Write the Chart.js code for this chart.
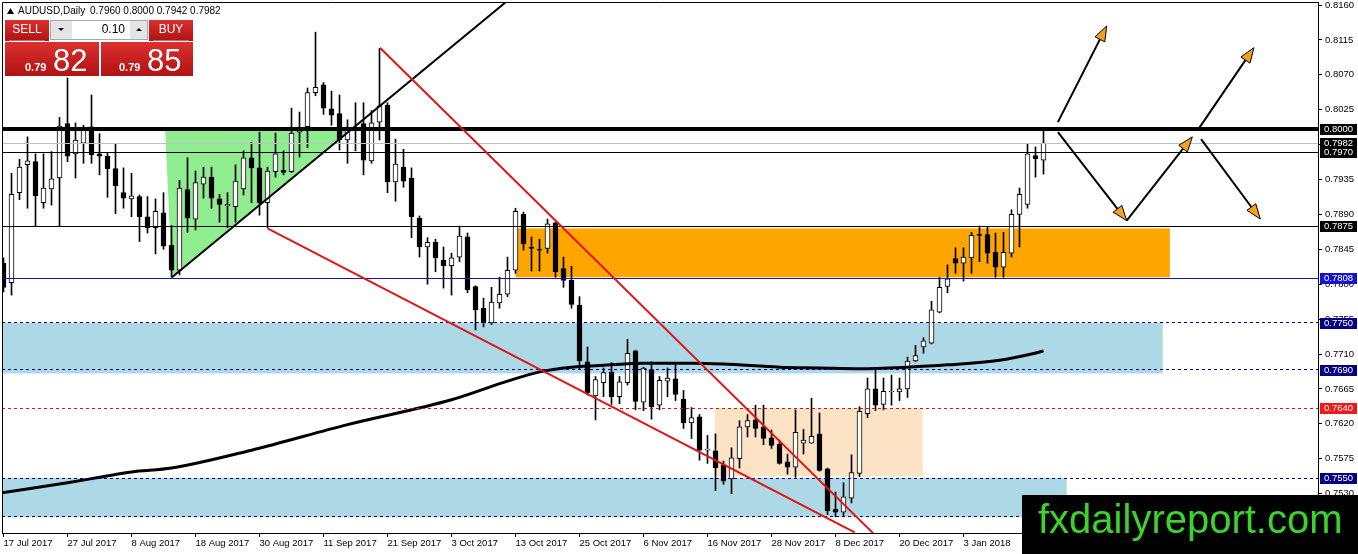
<!DOCTYPE html>
<html>
<head>
<meta charset="utf-8">
<script src="https://cdn.jsdelivr.net/npm/chart.js@4.4.1/dist/chart.umd.min.js"></script>
<style>
  html, body { margin: 0; padding: 0; background: #fff; overflow: hidden; }
  canvas { display: block; }
</style>
</head>
<body>
<canvas id="chart" width="1358" height="554"></canvas>
<script>
// AUDUSD daily candles, 17 Jul 2017 .. Jan 2018
const opens = [
  0.7827, 0.7802, 0.7918, 0.7954, 0.7958, 0.7905, 0.7923, 0.7937, 0.8007, 0.7968,
  0.7982, 0.8003, 0.7968, 0.7965, 0.7949, 0.7918, 0.7910, 0.7913, 0.7887, 0.7873,
  0.7892, 0.7850, 0.7818, 0.7922, 0.7884, 0.7929, 0.7938, 0.7910, 0.7901, 0.7900,
  0.7923, 0.7963, 0.7950, 0.7905, 0.7945, 0.7947, 0.7945, 0.7996, 0.8003, 0.8047,
  0.8057, 0.8026, 0.8020, 0.7986, 0.7998, 0.8007, 0.7959, 0.8009, 0.8031, 0.7932,
  0.7951, 0.7937, 0.7885, 0.7848, 0.7854, 0.7831, 0.7824, 0.7835, 0.7861, 0.7797,
  0.7769, 0.7750, 0.7776, 0.7787, 0.7818, 0.7890, 0.7848, 0.7845, 0.7846, 0.7879,
  0.7820, 0.7805, 0.7773, 0.7700, 0.7656, 0.7673, 0.7687, 0.7655, 0.7673, 0.7714,
  0.7648, 0.7690, 0.7644, 0.7675, 0.7678, 0.7652, 0.7621, 0.7629, 0.7586, 0.7585,
  0.7567, 0.7549, 0.7575, 0.7616, 0.7625, 0.7616, 0.7602, 0.7594, 0.7571, 0.7564,
  0.7595, 0.7595, 0.7607, 0.7562, 0.7510, 0.7506, 0.7524, 0.7556, 0.7633, 0.7665,
  0.7645, 0.7661, 0.7661, 0.7665, 0.7701, 0.7719, 0.7724, 0.7764, 0.7797, 0.7833,
  0.7827, 0.7834, 0.7864, 0.7864, 0.7841, 0.7822, 0.7840, 0.7890, 0.7903, 0.7966,
  0.7960
];
const highs = [
  0.7834, 0.7943, 0.7961, 0.7990, 0.7968, 0.7968, 0.7971, 0.8015, 0.8066, 0.8008,
  0.8005, 0.8044, 0.7994, 0.7969, 0.7981, 0.7950, 0.7943, 0.7915, 0.7913, 0.7910,
  0.7918, 0.7876, 0.7934, 0.7963, 0.7946, 0.7951, 0.7951, 0.7916, 0.7918, 0.7954,
  0.7972, 0.7983, 0.7996, 0.7951, 0.7995, 0.7972, 0.8027, 0.8022, 0.8053, 0.8125,
  0.8060, 0.8049, 0.8044, 0.8012, 0.8034, 0.8034, 0.8024, 0.8104, 0.8034, 0.7987,
  0.7974, 0.7950, 0.7888, 0.7860, 0.7858, 0.7848, 0.7840, 0.7875, 0.7866, 0.7798,
  0.7782, 0.7796, 0.7809, 0.7835, 0.7898, 0.7893, 0.7861, 0.7858, 0.7884, 0.7880,
  0.7835, 0.7823, 0.7784, 0.7719, 0.7681, 0.7692, 0.7699, 0.7681, 0.7729, 0.7715,
  0.7693, 0.7700, 0.7681, 0.7692, 0.7696, 0.7663, 0.7641, 0.7632, 0.7605, 0.7607,
  0.7572, 0.7589, 0.7624, 0.7632, 0.7644, 0.7644, 0.7612, 0.7599, 0.7581, 0.7638,
  0.7613, 0.7653, 0.7634, 0.7563, 0.7532, 0.7544, 0.7580, 0.7642, 0.7679, 0.7689,
  0.7679, 0.7683, 0.7679, 0.7706, 0.7721, 0.7731, 0.7778, 0.7809, 0.7825, 0.7847,
  0.7847, 0.7867, 0.7875, 0.7874, 0.7866, 0.7867, 0.7896, 0.7924, 0.7981, 0.7977,
  0.8000
];
const lows = [
  0.7790, 0.7786, 0.7909, 0.7898, 0.7875, 0.7898, 0.7902, 0.7875, 0.7958, 0.7937,
  0.7956, 0.7956, 0.7941, 0.7912, 0.7891, 0.7898, 0.7887, 0.7855, 0.7866, 0.7839,
  0.7845, 0.7809, 0.7812, 0.7867, 0.7870, 0.7911, 0.7898, 0.7880, 0.7873, 0.7880,
  0.7915, 0.7905, 0.7889, 0.7873, 0.7938, 0.7941, 0.7944, 0.7964, 0.7976, 0.8043,
  0.8019, 0.8005, 0.7973, 0.7956, 0.7972, 0.7941, 0.7956, 0.7986, 0.7918, 0.7907,
  0.7925, 0.7860, 0.7835, 0.7800, 0.7816, 0.7795, 0.7786, 0.7829, 0.7789, 0.7741,
  0.7745, 0.7748, 0.7769, 0.7784, 0.7814, 0.7844, 0.7817, 0.7817, 0.7840, 0.7809,
  0.7796, 0.7769, 0.7690, 0.7657, 0.7625, 0.7655, 0.7645, 0.7646, 0.7670, 0.7638,
  0.7637, 0.7626, 0.7638, 0.7655, 0.7650, 0.7614, 0.7601, 0.7573, 0.7569, 0.7534,
  0.7542, 0.7530, 0.7563, 0.7603, 0.7603, 0.7593, 0.7588, 0.7568, 0.7555, 0.7551,
  0.7581, 0.7595, 0.7559, 0.7503, 0.7500, 0.7500, 0.7518, 0.7552, 0.7628, 0.7637,
  0.7638, 0.7644, 0.7650, 0.7654, 0.7700, 0.7711, 0.7723, 0.7763, 0.7789, 0.7814,
  0.7804, 0.7814, 0.7829, 0.7827, 0.7809, 0.7809, 0.7835, 0.7848, 0.7898, 0.7938,
  0.7942
];
const closes = [
  0.7796, 0.7916, 0.7951, 0.7959, 0.7914, 0.7924, 0.7936, 0.8004, 0.7965, 0.7986,
  0.8000, 0.7967, 0.7965, 0.7949, 0.7927, 0.7911, 0.7914, 0.7887, 0.7873, 0.7894,
  0.7849, 0.7818, 0.7924, 0.7885, 0.7931, 0.7938, 0.7911, 0.7903, 0.7903, 0.7933,
  0.7963, 0.7950, 0.7905, 0.7946, 0.7968, 0.7944, 0.7995, 0.8001, 0.8047, 0.8054,
  0.8027, 0.8018, 0.7986, 0.7999, 0.8001, 0.7960, 0.8008, 0.8030, 0.7932, 0.7955,
  0.7933, 0.7887, 0.7848, 0.7854, 0.7834, 0.7824, 0.7834, 0.7862, 0.7793, 0.7767,
  0.7750, 0.7777, 0.7787, 0.7818, 0.7894, 0.7852, 0.7846, 0.7844, 0.7878, 0.7816,
  0.7805, 0.7774, 0.7701, 0.7660, 0.7677, 0.7686, 0.7655, 0.7674, 0.7711, 0.7649,
  0.7692, 0.7642, 0.7676, 0.7679, 0.7658, 0.7621, 0.7628, 0.7586, 0.7587, 0.7563,
  0.7546, 0.7576, 0.7616, 0.7624, 0.7614, 0.7601, 0.7592, 0.7569, 0.7564, 0.7609,
  0.7599, 0.7604, 0.7560, 0.7508, 0.7506, 0.7526, 0.7557, 0.7636, 0.7665, 0.7644,
  0.7662, 0.7662, 0.7665, 0.7701, 0.7708, 0.7727, 0.7767, 0.7796, 0.7807, 0.7827,
  0.7835, 0.7863, 0.7863, 0.7840, 0.7822, 0.7841, 0.7890, 0.7916, 0.7968, 0.7962,
  0.7982
];

// time axis labels (bar index -> date)
const tickBars = [0, 8, 16, 24, 32, 40, 48, 56, 64, 72, 80, 88, 96, 104, 112, 120];
const tickLabels = ['17 Jul 2017', '27 Jul 2017', '8 Aug 2017', '18 Aug 2017', '30 Aug 2017',
  '11 Sep 2017', '21 Sep 2017', '3 Oct 2017', '13 Oct 2017', '25 Oct 2017', '6 Nov 2017',
  '16 Nov 2017', '28 Nov 2017', '8 Dec 2017', '20 Dec 2017', '3 Jan 2018'];
const priceTicks = [0.8160, 0.8115, 0.8070, 0.8025, 0.7980, 0.7935, 0.7890, 0.7845, 0.7800,
  0.7755, 0.7710, 0.7665, 0.7620, 0.7575, 0.7530];

// moving average, read at a few bars
const maBars = [-0.2, 8, 12, 16, 21, 31, 43, 56, 63, 67, 71, 76, 80, 86, 90, 97, 102, 107, 113, 118, 124.5, 128.5, 130];
const maValues = [0.7531, 0.7544, 0.7551, 0.7558, 0.7563, 0.7586, 0.7619, 0.7651, 0.7675, 0.7687,
  0.7693, 0.7696, 0.7698, 0.7698, 0.7697, 0.7693, 0.7692, 0.7691, 0.7693, 0.7696, 0.7702, 0.7710, 0.7714];

// horizontal levels
const levelPrices = [0.8000, 0.7982, 0.7970, 0.7875, 0.7808, 0.7750, 0.7690, 0.7640, 0.7550, 0.7500];
const labelledLevels = [0.8000, 0.7982, 0.7970, 0.7875, 0.7808, 0.7750, 0.7690, 0.7640, 0.7550];

// zones: [fromBar, toBar, topPrice, bottomPrice]
const zones = [
  [-2, 144.9, 0.7750, 0.7685],
  [-2, 132.9, 0.7550, 0.7500],
  [64, 145.8, 0.7872, 0.7809],
  [88.9, 114.9, 0.7640, 0.7552]
];
const greenTriangle = [[20.2, 0.8000], [21.06, 0.7809], [43.3, 0.8000]];

// trend lines: [bar1, price1, bar2, price2]
const blackTrend = [21.06, 0.7809, 62.7, 0.8163];
const redTrends = [
  [47.06, 0.8105, 108.7, 0.7479],
  [33, 0.7872, 106.4, 0.7480]
];
const arrows = [
  [131.8, 0.8009, 137.9, 0.8133],
  [131.8, 0.7996, 140.4, 0.7882],
  [140.4, 0.7882, 148.6, 0.7990],
  [149.3, 0.7999, 156.3, 0.8105],
  [149.7, 0.7987, 157.1, 0.7884]
];

const bidPrice = 0.7982;
const askPrice = 0.7985;
const lotSize = '0.10';

const bars = opens.map((_, i) => i);
const axisFont = { family: 'Liberation Sans', size: 9.5 };

const zoneColors = ['#add8e6', '#add8e6', '#ffa500', '#fde3c6'];
const levelStyles = [
  { color: '#000', width: 4, dash: [] },
  { color: '#c0c0c0', width: 1, dash: [] },
  { color: '#000', width: 1, dash: [] },
  { color: '#000', width: 1, dash: [] },
  { color: '#1414b4', width: 1, dash: [] },
  { color: '#000080', width: 1, dash: [3, 3] },
  { color: '#000080', width: 1, dash: [3, 3] },
  { color: '#e01010', width: 1, dash: [3, 3] },
  { color: '#000080', width: 1, dash: [3, 3] },
  { color: '#000080', width: 1, dash: [3, 3] }
];
const labelColors = ['#000', '#000', '#000', '#000', '#1414d0', '#000080', '#000080', '#f01818', '#000080'];

function drawArrow(ctx, x1, y1, x2, y2) {
  const a = Math.atan2(y2 - y1, x2 - x1);
  const len = 15, half = 5.5;
  const bx = x2 - len * Math.cos(a), by = y2 - len * Math.sin(a);
  ctx.beginPath();
  ctx.moveTo(x1, y1);
  ctx.lineTo(bx, by);
  ctx.lineWidth = 2;
  ctx.strokeStyle = '#000';
  ctx.stroke();
  ctx.beginPath();
  ctx.moveTo(x2, y2);
  ctx.lineTo(bx + half * Math.sin(a), by - half * Math.cos(a));
  ctx.lineTo(bx - half * Math.sin(a), by + half * Math.cos(a));
  ctx.closePath();
  ctx.fillStyle = '#f3a01e';
  ctx.fill();
  ctx.lineWidth = 1;
  ctx.stroke();
}

function redBox(ctx, x, y, w, h) {
  const g = ctx.createLinearGradient(0, y, 0, y + h);
  g.addColorStop(0, '#dc3030');
  g.addColorStop(1, '#b01212');
  ctx.fillStyle = g;
  ctx.fillRect(x, y, w, h);
}

function drawTradePanel(ctx) {
  const n = opens.length - 1;
  ctx.fillStyle = '#000';
  ctx.beginPath();
  ctx.moveTo(7, 14); ctx.lineTo(14, 14); ctx.lineTo(10.5, 8);
  ctx.closePath(); ctx.fill();
  ctx.font = '10px "Liberation Sans"';
  ctx.textAlign = 'left';
  ctx.textBaseline = 'middle';
  ctx.fillText('AUDUSD,Daily', 18, 11);
  ctx.fillText([opens[n], highs[n], lows[n], closes[n]].map(v => v.toFixed(4)).join(' '), 90, 11);

  // sell / lot / buy row
  redBox(ctx, 5, 20, 44, 21);
  redBox(ctx, 149, 20, 44, 21);
  ctx.fillStyle = '#e4e4e4';
  ctx.fillRect(50, 20, 22, 20);
  ctx.fillRect(130, 20, 18, 20);
  ctx.fillStyle = '#fff';
  ctx.fillRect(72, 20, 58, 20);
  ctx.strokeStyle = '#a8a8a8';
  ctx.lineWidth = 1;
  ctx.strokeRect(50.5, 20.5, 97, 19);
  ctx.fillStyle = '#000';
  ctx.beginPath(); ctx.moveTo(58, 28); ctx.lineTo(64, 28); ctx.lineTo(61, 31); ctx.closePath(); ctx.fill();
  ctx.beginPath(); ctx.moveTo(136, 31); ctx.lineTo(142, 31); ctx.lineTo(139, 28); ctx.closePath(); ctx.fill();
  ctx.font = '12px "Liberation Sans"';
  ctx.textAlign = 'right';
  ctx.fillText(lotSize, 125, 30);
  ctx.fillStyle = '#fff';
  ctx.textAlign = 'center';
  ctx.fillText('SELL', 27, 30);
  ctx.fillText('BUY', 171, 30);
  ctx.fillStyle = 'rgba(255,255,255,0.35)';
  ctx.fillRect(9, 40, 36, 1);
  ctx.fillRect(153, 40, 36, 1);

  // big price panels
  redBox(ctx, 5, 42, 94, 34);
  redBox(ctx, 101, 42, 92, 34);
  const parts = [[bidPrice, 25, 53], [askPrice, 119, 147]];
  parts.forEach(([p, xs, xb]) => {
    const s = p.toFixed(4);
    ctx.fillStyle = '#fff';
    ctx.textAlign = 'left';
    ctx.textBaseline = 'alphabetic';
    ctx.font = 'bold 11px "Liberation Sans"';
    ctx.fillText(s.slice(0, 4), xs, 71);
    ctx.font = '31px "Liberation Sans"';
    ctx.fillText(s.slice(4), xb, 71);
  });
}

const annotations = {
  id: 'annotations',
  beforeDatasetsDraw(chart) {
    const { ctx, chartArea: a, scales: { x, y } } = chart;
    ctx.save();
    ctx.beginPath(); ctx.rect(a.left, a.top, a.width, a.height); ctx.clip();
    zones.forEach((z, k) => {
      const x0 = x.getPixelForValue(z[0]), x1 = x.getPixelForValue(z[1]);
      const y0 = y.getPixelForValue(z[2]), y1 = y.getPixelForValue(z[3]);
      ctx.fillStyle = zoneColors[k];
      ctx.fillRect(x0, y0, x1 - x0, y1 - y0);
    });
    ctx.beginPath();
    greenTriangle.forEach(([b, p], i) => {
      const px = x.getPixelForValue(b), py = y.getPixelForValue(p);
      if (i) ctx.lineTo(px, py); else ctx.moveTo(px, py);
    });
    ctx.closePath();
    ctx.fillStyle = '#90ee90';
    ctx.fill();
    ctx.restore();
  },
  afterDatasetsDraw(chart) {
    const { ctx, chartArea: a, scales: { x, y } } = chart;
    ctx.save();
    ctx.beginPath(); ctx.rect(a.left, a.top, a.width, a.height); ctx.clip();
    levelPrices.forEach((p, k) => {
      const st = levelStyles[k];
      let py = y.getPixelForValue(p);
      if (st.width % 2) py = Math.round(py - 0.5) + 0.5;
      ctx.beginPath();
      ctx.setLineDash(st.dash);
      ctx.strokeStyle = st.color;
      ctx.lineWidth = st.width;
      ctx.moveTo(a.left, py);
      ctx.lineTo(a.right, py);
      ctx.stroke();
    });
    ctx.setLineDash([]);
    const seg = (t, color) => {
      ctx.beginPath();
      ctx.moveTo(x.getPixelForValue(t[0]), y.getPixelForValue(t[1]));
      ctx.lineTo(x.getPixelForValue(t[2]), y.getPixelForValue(t[3]));
      ctx.strokeStyle = color;
      ctx.lineWidth = 2;
      ctx.stroke();
    };
    seg(blackTrend, '#000');
    redTrends.forEach(t => seg(t, '#e01515'));
    arrows.forEach(t => drawArrow(ctx, x.getPixelForValue(t[0]), y.getPixelForValue(t[1]),
      x.getPixelForValue(t[2]), y.getPixelForValue(t[3])));
    ctx.restore();
  },
  afterDraw(chart) {
    const { ctx, chartArea: a, scales: { y } } = chart;
    ctx.save();
    // frame
    ctx.strokeStyle = '#000';
    ctx.lineWidth = 1;
    ctx.beginPath();
    ctx.moveTo(a.left + 0.5, a.bottom); ctx.lineTo(a.left + 0.5, a.top + 0.5); ctx.lineTo(a.right, a.top + 0.5);
    ctx.stroke();
    // price boxes on the axis
    ctx.font = '9.5px "Liberation Sans"';
    ctx.textAlign = 'left';
    ctx.textBaseline = 'middle';
    labelledLevels.forEach((p, k) => {
      const py = Math.round(y.getPixelForValue(p));
      ctx.fillStyle = labelColors[k];
      ctx.fillRect(a.right + 2, py - 5, 37, 11);
      ctx.fillStyle = '#fff';
      ctx.fillText(p.toFixed(4), a.right + 6, py + 0.5);
    });
    drawTradePanel(ctx);
    // watermark
    ctx.fillStyle = '#000';
    ctx.fillRect(1022, 495, 336, 59);
    ctx.fillStyle = '#3bd42b';
    ctx.font = '40px "Liberation Sans"';
    ctx.textAlign = 'left';
    ctx.textBaseline = 'alphabetic';
    ctx.fillText('fxdailyreport.com', 1038, 533);
    ctx.restore();
  }
};

new Chart(document.getElementById('chart'), {
  data: {
    datasets: [
      {
        type: 'line',
        data: maBars.map((b, i) => ({ x: b, y: maValues[i] })),
        borderColor: '#000',
        borderWidth: 3,
        pointRadius: 0,
        cubicInterpolationMode: 'monotone',
        order: 0
      },
      {
        type: 'bar',
        data: bars.map(i => ({ x: i, y: [opens[i], closes[i]] })),
        backgroundColor: bars.map(i => closes[i] >= opens[i] ? '#fff' : '#000'),
        borderColor: '#000',
        borderWidth: 1,
        borderSkipped: false,
        barThickness: 5,
        minBarLength: 1,
        grouped: false,
        order: 1
      },
      {
        type: 'bar',
        data: bars.map(i => ({ x: i, y: [lows[i], highs[i]] })),
        backgroundColor: '#000',
        barThickness: 1,
        grouped: false,
        order: 2
      }
    ]
  },
  options: {
    responsive: false,
    animation: false,
    devicePixelRatio: 1,
    layout: { padding: { left: 2, top: 2, right: 0, bottom: 0 } },
    plugins: { legend: { display: false }, tooltip: { enabled: false } },
    scales: {
      x: {
        type: 'linear',
        min: -0.1875,
        max: 164.3125,
        bounds: 'data',
        offset: false,
        afterBuildTicks: s => { s.ticks = tickBars.map(v => ({ value: v })); },
        afterFit: s => { s.height = 21; s.paddingLeft = 0; s.paddingRight = 0; },
        ticks: {
          callback: (v, i) => tickLabels[i],
          align: 'start',
          maxRotation: 0,
          autoSkip: false,
          color: '#000',
          font: axisFont,
          padding: 1
        },
        grid: { drawOnChartArea: false, offset: false, tickLength: 4, color: '#000' },
        border: { color: '#000' }
      },
      y: {
        type: 'linear',
        position: 'right',
        min: 0.74792,
        max: 0.81639,
        bounds: 'data',
        afterBuildTicks: s => { s.ticks = priceTicks.map(v => ({ value: v })); },
        afterFit: s => { s.width = 40; s.paddingTop = 0; s.paddingBottom = 0; },
        ticks: {
          callback: v => v.toFixed(4),
          color: '#000',
          font: axisFont,
          padding: 3
        },
        grid: { drawOnChartArea: false, tickLength: 4, color: '#000' },
        border: { color: '#000' }
      }
    }
  },
  plugins: [annotations]
});
</script>
</body>
</html>
